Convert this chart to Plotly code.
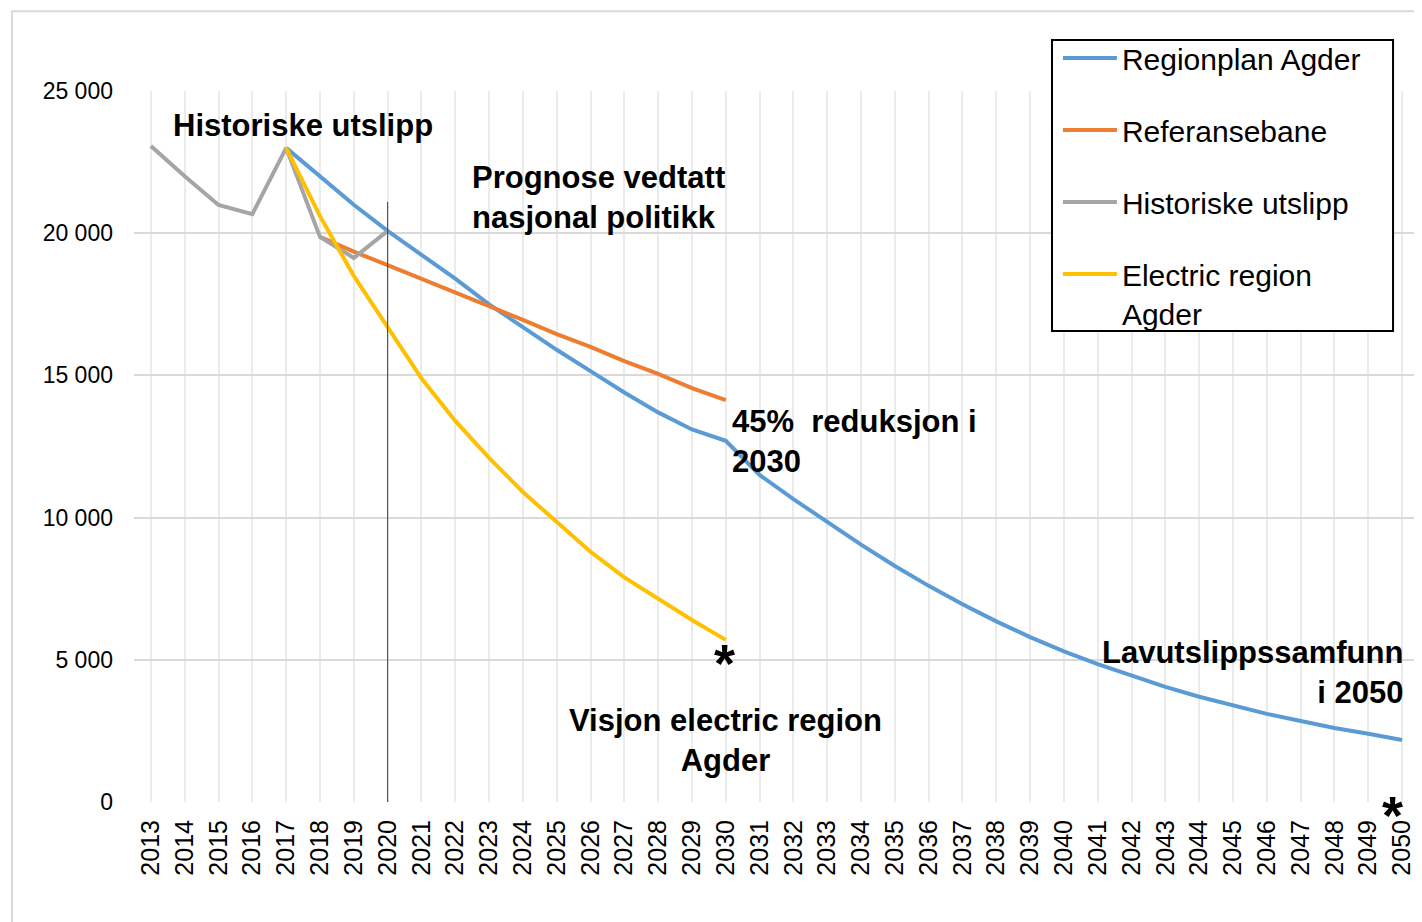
import plotly.graph_objects as go

years = list(range(2013, 2051))
tick_labels = [str(y) for y in years]

hist_years = [2013, 2014, 2015, 2016, 2017, 2018, 2019, 2020]
hist_vals = [23070, 22000, 20990, 20670, 23000, 19870, 19130, 20080]

region_years = list(range(2017, 2051))
region_vals = [23000, 22000, 21000, 20080, 19250, 18400, 17500, 16700, 15900, 15150,
               14400, 13700, 13100, 12700, 11500, 10650, 9850, 9050, 8300, 7600,
               6950, 6350, 5800, 5300, 4850, 4450, 4050, 3700, 3400, 3100,
               2850, 2600, 2400, 2180]

ref_years = list(range(2018, 2031))
ref_vals = [19870, 19350, 18880, 18400, 17900, 17450, 16950, 16450, 16000, 15500,
            15050, 14550, 14130]

el_years = list(range(2017, 2031))
el_vals = [23000, 20600, 18500, 16700, 14900, 13400, 12100, 10900, 9850, 8800,
           7900, 7150, 6400, 5700]

BLUE = "#5B9BD5"
ORANGE = "#ED7D31"
GRAY = "#A5A5A5"
YELLOW = "#FFC000"
FONT = "Liberation Sans, Arial, sans-serif"

fig = go.Figure()
series = [
    ("Regionplan Agder", region_years, region_vals, BLUE),
    ("Referansebane", ref_years, ref_vals, ORANGE),
    ("Historiske utslipp", hist_years, hist_vals, GRAY),
    ("Electric region<br>Agder", el_years, el_vals, YELLOW),
]
for i, (name, xs, ys, col) in enumerate(series):
    fig.add_trace(go.Scatter(
        x=xs, y=ys, name=name, mode="lines",
        line=dict(color=col, width=4),
        legendgroup=f"g{i}", hoverinfo="skip",
    ))

ann_font = dict(family=FONT, size=31, color="black")
annotations = [
    dict(x=2013.59, y=23770, text="<b>Historiske utslipp</b>", xanchor="left", yanchor="middle", align="left"),
    dict(x=2022.43, y=21240, text="<b>Prognose vedtatt<br>nasjonal politikk</b>", xanchor="left", yanchor="middle", align="left"),
    dict(x=2030.12, y=12660, text="<b>45%  reduksjon i<br>2030</b>", xanchor="left", yanchor="middle", align="left"),
    dict(x=2030.0, y=2180, text="<b>Visjon electric region<br>Agder</b>", xanchor="center", yanchor="middle", align="center"),
    dict(x=2050.09, y=4540, text="<b>Lavutslippssamfunn<br>i 2050</b>", xanchor="right", yanchor="middle", align="right"),
]
for a in annotations:
    a.update(xref="x", yref="y", showarrow=False, font=ann_font)
annotations += [
    dict(x=2029.95, y=4900, text="<b>*</b>", xref="x", yref="y", showarrow=False,
         xanchor="center", yanchor="middle", font=dict(family=FONT, size=54, color="black")),
    dict(x=2049.73, y=-0.018, text="<b>*</b>", xref="x", yref="paper", showarrow=False,
         xanchor="center", yanchor="middle", font=dict(family=FONT, size=54, color="black")),
]

shapes = [
    dict(type="line", xref="x", yref="y", x0=2020, x1=2020, y0=0, y1=21100,
         line=dict(color="#404040", width=1)),
    dict(type="rect", xref="paper", yref="paper", x0=-0.095, x1=1.0, y0=-0.2, y1=1.112,
         line=dict(color="#D9D9D9", width=2), layer="below"),
    # legend frame
    dict(type="rect", xref="paper", yref="paper", x0=0.7144, x1=0.9798, y0=0.6624, y1=1.0717,
         line=dict(color="black", width=2), fillcolor="white", layer="above"),
]

fig.update_layout(
    width=1414, height=914,
    margin=dict(l=126, r=3, t=83, b=120),
    paper_bgcolor="white", plot_bgcolor="white",
    font=dict(family=FONT, color="black"),
    annotations=annotations, shapes=shapes,
    showlegend=True,
    legend=dict(
        x=0.719, y=1.083, xanchor="left", yanchor="top",
        bgcolor="rgba(0,0,0,0)", borderwidth=0,
        font=dict(family=FONT, size=30, color="black"),
        tracegroupgap=30, traceorder="grouped", itemwidth=54, valign="top",
    ),
    xaxis=dict(
        range=[2012.5, 2050.5], tickmode="array", tickvals=years, ticktext=tick_labels,
        tickangle=-90, tickfont=dict(family=FONT, size=25, color="black"),
        showgrid=True, gridcolor="#EBEBEB", gridwidth=2, zeroline=False,
        showline=False, ticks="", ticklabelstandoff=12,
    ),
    yaxis=dict(
        range=[0, 25000], tickmode="array", tickvals=[0, 5000, 10000, 15000, 20000, 25000],
        ticktext=["0", "5 000", "10 000", "15 000", "20 000", "25 000"],
        tickfont=dict(family=FONT, size=23, color="black"),
        showgrid=True, gridcolor="#D9D9D9", gridwidth=2, zeroline=False,
        showline=False, ticks="", ticklabelstandoff=20,
    ),
)

fig.write_html("out.html")
